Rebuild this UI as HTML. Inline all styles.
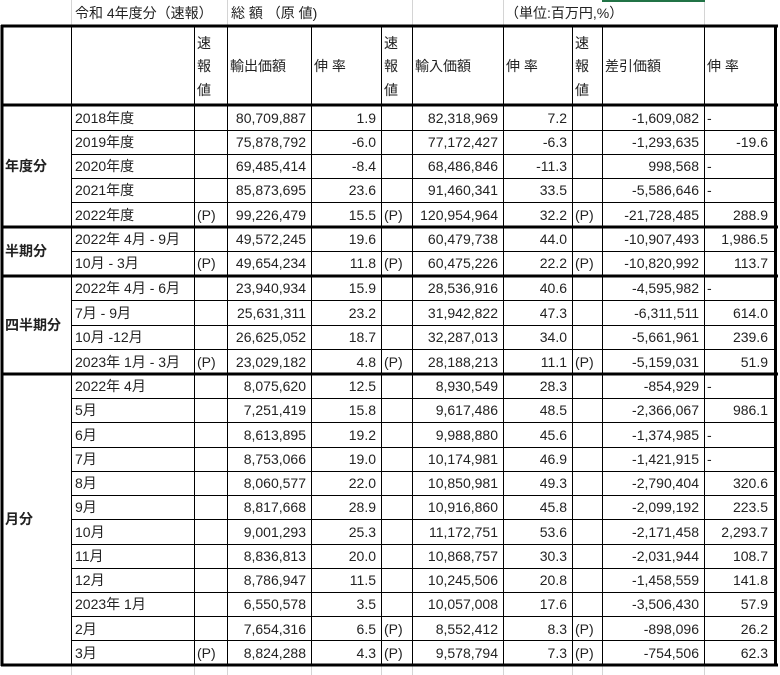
<!DOCTYPE html>
<html><head><meta charset="utf-8"><style>
body{margin:0;background:#fff}
svg{display:block}
text{font-family:"Liberation Sans","Noto Sans CJK JP",sans-serif;font-size:14px;fill:#222}
.r{text-anchor:end}
.b{font-weight:bold}
</style></head><body>
<svg width="780" height="675" viewBox="0 0 780 675" xmlns="http://www.w3.org/2000/svg">
<g stroke="#d4d4d4" stroke-width="1">
<line x1="71.5" y1="0" x2="71.5" y2="26"/><line x1="227.5" y1="0" x2="227.5" y2="26"/><line x1="412.5" y1="0" x2="412.5" y2="26"/><line x1="503.5" y1="0" x2="503.5" y2="26"/><line x1="704.5" y1="0" x2="704.5" y2="26"/>
<line x1="71.5" y1="665" x2="71.5" y2="675"/><line x1="194.5" y1="665" x2="194.5" y2="675"/><line x1="227.5" y1="665" x2="227.5" y2="675"/><line x1="311.5" y1="665" x2="311.5" y2="675"/><line x1="381.5" y1="665" x2="381.5" y2="675"/><line x1="412.5" y1="665" x2="412.5" y2="675"/><line x1="503.5" y1="665" x2="503.5" y2="675"/><line x1="572.5" y1="665" x2="572.5" y2="675"/><line x1="602.5" y1="665" x2="602.5" y2="675"/><line x1="704.5" y1="665" x2="704.5" y2="675"/>
</g>
<line x1="602" y1="1" x2="705" y2="1" stroke="#217346" stroke-width="2"/>
<g stroke="#000" stroke-width="1">
<line x1="71.5" y1="26" x2="71.5" y2="665"/>
<line x1="194.5" y1="26" x2="194.5" y2="665"/>
<line x1="227.5" y1="26" x2="227.5" y2="665"/>
<line x1="311.5" y1="26" x2="311.5" y2="665"/>
<line x1="381.5" y1="26" x2="381.5" y2="665"/>
<line x1="412.5" y1="26" x2="412.5" y2="665"/>
<line x1="503.5" y1="26" x2="503.5" y2="665"/>
<line x1="572.5" y1="26" x2="572.5" y2="665"/>
<line x1="602.5" y1="26" x2="602.5" y2="665"/>
<line x1="704.5" y1="26" x2="704.5" y2="665"/>
<line x1="71" y1="130.5" x2="777" y2="130.5"/>
<line x1="71" y1="154.5" x2="777" y2="154.5"/>
<line x1="71" y1="178.5" x2="777" y2="178.5"/>
<line x1="71" y1="202.5" x2="777" y2="202.5"/>
<line x1="71" y1="251.5" x2="777" y2="251.5"/>
<line x1="71" y1="300.5" x2="777" y2="300.5"/>
<line x1="71" y1="325.5" x2="777" y2="325.5"/>
<line x1="71" y1="349.5" x2="777" y2="349.5"/>
<line x1="71" y1="398.5" x2="777" y2="398.5"/>
<line x1="71" y1="422.5" x2="777" y2="422.5"/>
<line x1="71" y1="447.5" x2="777" y2="447.5"/>
<line x1="71" y1="471.5" x2="777" y2="471.5"/>
<line x1="71" y1="495.5" x2="777" y2="495.5"/>
<line x1="71" y1="519.5" x2="777" y2="519.5"/>
<line x1="71" y1="544.5" x2="777" y2="544.5"/>
<line x1="71" y1="568.5" x2="777" y2="568.5"/>
<line x1="71" y1="592.5" x2="777" y2="592.5"/>
<line x1="71" y1="616.5" x2="777" y2="616.5"/>
<line x1="71" y1="640.5" x2="777" y2="640.5"/>
</g>
<g stroke="#000" stroke-width="3">
<line x1="1" y1="26" x2="778" y2="26"/>
<line x1="1" y1="105" x2="778" y2="105"/>
<line x1="1" y1="227" x2="778" y2="227"/>
<line x1="1" y1="276" x2="778" y2="276"/>
<line x1="1" y1="374" x2="778" y2="374"/>
<line x1="1" y1="665" x2="778" y2="665"/>
<line x1="2" y1="25" x2="2" y2="666"/>
<line x1="775.5" y1="25" x2="775.5" y2="666"/>
</g>
<text x="75" y="18">令和 4年度分（速報）</text>
<text x="231" y="18">総 額 （原 値)</text>
<text x="505" y="18">（単位:百万円,%）</text>
<g>
<text x="197" y="48">速</text><text x="197" y="71">報</text><text x="197" y="95">値</text>
<text x="384" y="48">速</text><text x="384" y="71">報</text><text x="384" y="95">値</text>
<text x="575" y="48">速</text><text x="575" y="71">報</text><text x="575" y="95">値</text>
<text x="230" y="71">輸出価額</text><text x="314" y="71">伸 率</text>
<text x="415" y="71">輸入価額</text><text x="506" y="71">伸 率</text>
<text x="605" y="71">差引価額</text><text x="707" y="71">伸 率</text>
</g>
<text class="b" x="5" y="171">年度分</text>
<text class="b" x="5" y="256">半期分</text>
<text class="b" x="5" y="330">四半期分</text>
<text class="b" x="5" y="524">月分</text>
<g id="rows">
<!-- y baselines -->
<text x="75" y="123">2018年度</text><text class="r" x="306" y="123">80,709,887</text><text class="r" x="376" y="123">1.9</text><text class="r" x="498" y="123">82,318,969</text><text class="r" x="567" y="123">7.2</text><text class="r" x="699" y="123">-1,609,082</text><text x="707" y="123">-</text>
<text x="75" y="147">2019年度</text><text class="r" x="306" y="147">75,878,792</text><text class="r" x="376" y="147">-6.0</text><text class="r" x="498" y="147">77,172,427</text><text class="r" x="567" y="147">-6.3</text><text class="r" x="699" y="147">-1,293,635</text><text class="r" x="768" y="147">-19.6</text>
<text x="75" y="171">2020年度</text><text class="r" x="306" y="171">69,485,414</text><text class="r" x="376" y="171">-8.4</text><text class="r" x="498" y="171">68,486,846</text><text class="r" x="567" y="171">-11.3</text><text class="r" x="699" y="171">998,568</text><text x="707" y="171">-</text>
<text x="75" y="195">2021年度</text><text class="r" x="306" y="195">85,873,695</text><text class="r" x="376" y="195">23.6</text><text class="r" x="498" y="195">91,460,341</text><text class="r" x="567" y="195">33.5</text><text class="r" x="699" y="195">-5,586,646</text><text x="707" y="195">-</text>
<text x="75" y="220">2022年度</text><text x="197" y="220">(P)</text><text class="r" x="306" y="220">99,226,479</text><text class="r" x="376" y="220">15.5</text><text x="384" y="220">(P)</text><text class="r" x="498" y="220">120,954,964</text><text class="r" x="567" y="220">32.2</text><text x="575" y="220">(P)</text><text class="r" x="699" y="220">-21,728,485</text><text class="r" x="768" y="220">288.9</text>

<text x="75" y="244">2022年 4月 - 9月</text><text class="r" x="306" y="244">49,572,245</text><text class="r" x="376" y="244">19.6</text><text class="r" x="498" y="244">60,479,738</text><text class="r" x="567" y="244">44.0</text><text class="r" x="699" y="244">-10,907,493</text><text class="r" x="768" y="244">1,986.5</text>
<text x="75" y="268">10月 - 3月</text><text x="197" y="268">(P)</text><text class="r" x="306" y="268">49,654,234</text><text class="r" x="376" y="268">11.8</text><text x="384" y="268">(P)</text><text class="r" x="498" y="268">60,475,226</text><text class="r" x="567" y="268">22.2</text><text x="575" y="268">(P)</text><text class="r" x="699" y="268">-10,820,992</text><text class="r" x="768" y="268">113.7</text>

<text x="75" y="293">2022年 4月 - 6月</text><text class="r" x="306" y="293">23,940,934</text><text class="r" x="376" y="293">15.9</text><text class="r" x="498" y="293">28,536,916</text><text class="r" x="567" y="293">40.6</text><text class="r" x="699" y="293">-4,595,982</text><text x="707" y="293">-</text>
<text x="75" y="318">7月 - 9月</text><text class="r" x="306" y="318">25,631,311</text><text class="r" x="376" y="318">23.2</text><text class="r" x="498" y="318">31,942,822</text><text class="r" x="567" y="318">47.3</text><text class="r" x="699" y="318">-6,311,511</text><text class="r" x="768" y="318">614.0</text>
<text x="75" y="342">10月 -12月</text><text class="r" x="306" y="342">26,625,052</text><text class="r" x="376" y="342">18.7</text><text class="r" x="498" y="342">32,287,013</text><text class="r" x="567" y="342">34.0</text><text class="r" x="699" y="342">-5,661,961</text><text class="r" x="768" y="342">239.6</text>
<text x="75" y="367">2023年 1月 - 3月</text><text x="197" y="367">(P)</text><text class="r" x="306" y="367">23,029,182</text><text class="r" x="376" y="367">4.8</text><text x="384" y="367">(P)</text><text class="r" x="498" y="367">28,188,213</text><text class="r" x="567" y="367">11.1</text><text x="575" y="367">(P)</text><text class="r" x="699" y="367">-5,159,031</text><text class="r" x="768" y="367">51.9</text>

<text x="75" y="391">2022年 4月</text><text class="r" x="306" y="391">8,075,620</text><text class="r" x="376" y="391">12.5</text><text class="r" x="498" y="391">8,930,549</text><text class="r" x="567" y="391">28.3</text><text class="r" x="699" y="391">-854,929</text><text x="707" y="391">-</text>
<text x="75" y="415">5月</text><text class="r" x="306" y="415">7,251,419</text><text class="r" x="376" y="415">15.8</text><text class="r" x="498" y="415">9,617,486</text><text class="r" x="567" y="415">48.5</text><text class="r" x="699" y="415">-2,366,067</text><text class="r" x="768" y="415">986.1</text>
<text x="75" y="440">6月</text><text class="r" x="306" y="440">8,613,895</text><text class="r" x="376" y="440">19.2</text><text class="r" x="498" y="440">9,988,880</text><text class="r" x="567" y="440">45.6</text><text class="r" x="699" y="440">-1,374,985</text><text x="707" y="440">-</text>
<text x="75" y="464">7月</text><text class="r" x="306" y="464">8,753,066</text><text class="r" x="376" y="464">19.0</text><text class="r" x="498" y="464">10,174,981</text><text class="r" x="567" y="464">46.9</text><text class="r" x="699" y="464">-1,421,915</text><text x="707" y="464">-</text>
<text x="75" y="488">8月</text><text class="r" x="306" y="488">8,060,577</text><text class="r" x="376" y="488">22.0</text><text class="r" x="498" y="488">10,850,981</text><text class="r" x="567" y="488">49.3</text><text class="r" x="699" y="488">-2,790,404</text><text class="r" x="768" y="488">320.6</text>
<text x="75" y="512">9月</text><text class="r" x="306" y="512">8,817,668</text><text class="r" x="376" y="512">28.9</text><text class="r" x="498" y="512">10,916,860</text><text class="r" x="567" y="512">45.8</text><text class="r" x="699" y="512">-2,099,192</text><text class="r" x="768" y="512">223.5</text>
<text x="75" y="537">10月</text><text class="r" x="306" y="537">9,001,293</text><text class="r" x="376" y="537">25.3</text><text class="r" x="498" y="537">11,172,751</text><text class="r" x="567" y="537">53.6</text><text class="r" x="699" y="537">-2,171,458</text><text class="r" x="768" y="537">2,293.7</text>
<text x="75" y="561">11月</text><text class="r" x="306" y="561">8,836,813</text><text class="r" x="376" y="561">20.0</text><text class="r" x="498" y="561">10,868,757</text><text class="r" x="567" y="561">30.3</text><text class="r" x="699" y="561">-2,031,944</text><text class="r" x="768" y="561">108.7</text>
<text x="75" y="585">12月</text><text class="r" x="306" y="585">8,786,947</text><text class="r" x="376" y="585">11.5</text><text class="r" x="498" y="585">10,245,506</text><text class="r" x="567" y="585">20.8</text><text class="r" x="699" y="585">-1,458,559</text><text class="r" x="768" y="585">141.8</text>
<text x="75" y="609">2023年 1月</text><text class="r" x="306" y="609">6,550,578</text><text class="r" x="376" y="609">3.5</text><text class="r" x="498" y="609">10,057,008</text><text class="r" x="567" y="609">17.6</text><text class="r" x="699" y="609">-3,506,430</text><text class="r" x="768" y="609">57.9</text>
<text x="75" y="634">2月</text><text class="r" x="306" y="634">7,654,316</text><text class="r" x="376" y="634">6.5</text><text x="384" y="634">(P)</text><text class="r" x="498" y="634">8,552,412</text><text class="r" x="567" y="634">8.3</text><text x="575" y="634">(P)</text><text class="r" x="699" y="634">-898,096</text><text class="r" x="768" y="634">26.2</text>
<text x="75" y="658">3月</text><text x="197" y="658">(P)</text><text class="r" x="306" y="658">8,824,288</text><text class="r" x="376" y="658">4.3</text><text x="384" y="658">(P)</text><text class="r" x="498" y="658">9,578,794</text><text class="r" x="567" y="658">7.3</text><text x="575" y="658">(P)</text><text class="r" x="699" y="658">-754,506</text><text class="r" x="768" y="658">62.3</text>
</g>
</svg>
</body></html>
